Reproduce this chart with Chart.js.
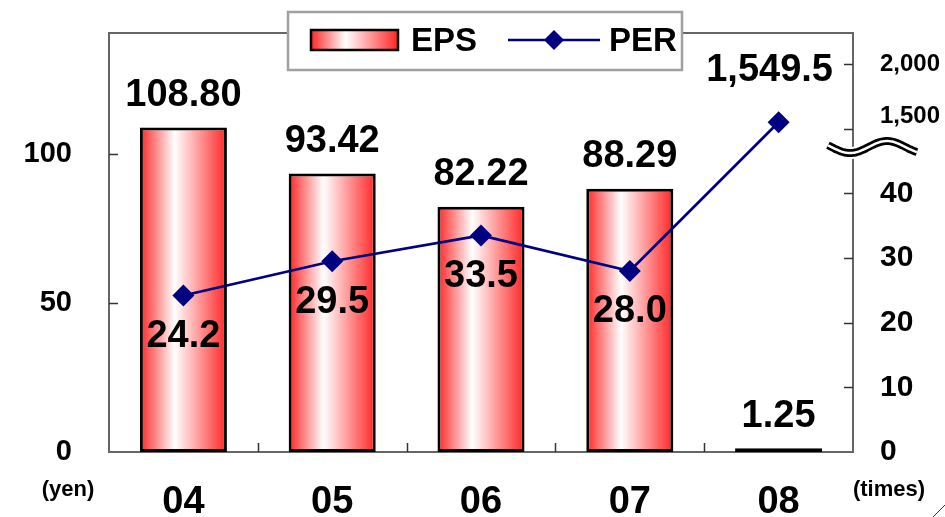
<!DOCTYPE html>
<html>
<head>
<meta charset="utf-8">
<script src="https://cdn.jsdelivr.net/npm/chart.js@4"></script>
<style>
  html, body { margin: 0; padding: 0; background: #fff; }
  canvas { display: block; }
</style>
</head>
<body>
<canvas id="c" width="945" height="517"></canvas>
<script>
// Fiscal years
const years = ['04', '05', '06', '07', '08'];
// EPS (yen) and PER (times)
const eps = [108.80, 93.42, 82.22, 88.29, 1.25];
const per = [24.2, 29.5, 33.5, 28.0, 1549.5];
// Axis tick values
const epsTicks = [0, 50, 100];
const perTicks = [0, 10, 20, 30, 40, 1500, 2000];

// The PER axis is broken: 0-45 is drawn linearly, values above the break
// continue from 1,500 at a compressed scale.
const BREAK_LOW = 45;
const UPPER_BASE = 1500;
const UPPER_AT = 50;
const UPPER_PER_UNIT = 50;
const toAxis = v => v <= BREAK_LOW ? v : UPPER_AT + (v - UPPER_BASE) / UPPER_PER_UNIT;
const fromAxis = a => a <= BREAK_LOW ? a : UPPER_BASE + (a - UPPER_AT) * UPPER_PER_UNIT;

const FONT = "'Liberation Sans', Arial, sans-serif";
const NAVY = '#000080';
const RED = '#ff2525';
const BAR_PCT = 0.585;

function barGradient(ctx, x0, x1) {
  const g = ctx.createLinearGradient(x0, 0, x1, 0);
  g.addColorStop(0, RED);
  g.addColorStop(0.4, '#ffffff');
  g.addColorStop(1, RED);
  return g;
}

// keep the plot area fixed: no extra room for overhanging tick labels
function noPad(s) {
  s.paddingTop = 0; s.paddingBottom = 0; s.paddingLeft = 0; s.paddingRight = 0;
}

const frame = {
  id: 'frame',
  beforeDatasetsDraw(chart) {
    const { ctx, chartArea: a, scales } = chart;
    ctx.save();
    ctx.lineWidth = 2;
    ctx.strokeStyle = '#666';
    ctx.strokeRect(a.left, a.top, a.right - a.left, a.bottom - a.top);
    ctx.beginPath();
    // inward tick marks
    epsTicks.filter(v => v > 0).forEach(v => {
      const y = Math.round(scales.y.getPixelForValue(v)) + 0.5;
      ctx.moveTo(a.left, y); ctx.lineTo(a.left + 9, y);
    });
    perTicks.filter(v => v > 0).forEach(v => {
      const y = Math.round(scales.y2.getPixelForValue(toAxis(v))) + 0.5;
      ctx.moveTo(a.right - 9, y); ctx.lineTo(a.right, y);
    });
    for (let i = 1; i < years.length; i++) {
      const x = Math.round((scales.x.getPixelForValue(i - 1) + scales.x.getPixelForValue(i)) / 2) + 0.5;
      ctx.moveTo(x, a.bottom - 9); ctx.lineTo(x, a.bottom);
    }
    ctx.lineWidth = 1.5;
    ctx.strokeStyle = '#333';
    ctx.stroke();
    ctx.restore();
  },
  afterDatasetsDraw(chart) {
    const { ctx, chartArea: a } = chart;
    ctx.save();
    ctx.fillStyle = '#000';
    ctx.textAlign = 'center';
    ctx.textBaseline = 'middle';
    ctx.font = `bold 38px ${FONT}`;
    const bars = chart.getDatasetMeta(1).data;
    bars.forEach((b, i) => {
      ctx.fillText(eps[i].toFixed(2), b.x, b.y - 32);
    });
    const pts = chart.getDatasetMeta(0).data;
    pts.forEach((p, i) => {
      const txt = per[i].toLocaleString('en-US', { minimumFractionDigits: 1, maximumFractionDigits: 1 });
      if (per[i] > BREAK_LOW) {
        const w = ctx.measureText(txt).width;
        const x = Math.min(p.x, a.right - 20 - w / 2);
        ctx.fillText(txt, x, p.y - 52);
      } else {
        ctx.fillText(txt, p.x, p.y + 41);
      }
    });
    ctx.restore();
  },
  afterDraw(chart) {
    const { ctx, scales } = chart;
    ctx.save();
    // unit captions
    ctx.fillStyle = '#000';
    ctx.textBaseline = 'middle';
    ctx.textAlign = 'center';
    ctx.font = `bold 22px ${FONT}`;
    ctx.fillText('(yen)', 68, 490);
    ctx.fillText('(times)', 889, 490);

    // axis break mark on the PER axis
    const yc = scales.y2.getPixelForValue(46.7);
    const wave = () => {
      ctx.beginPath();
      for (let x = 828; x <= 917; x += 1) {
        const y = yc - 3 + 6 * Math.cos(2 * Math.PI * (x - 850) / 74);
        x === 828 ? ctx.moveTo(x, y) : ctx.lineTo(x, y);
      }
    };
    wave();
    ctx.lineCap = 'butt';
    ctx.strokeStyle = '#fff'; ctx.lineWidth = 12; ctx.stroke();
    ctx.strokeStyle = '#000'; ctx.lineWidth = 8; ctx.stroke();
    ctx.strokeStyle = '#fff'; ctx.lineWidth = 2.5; ctx.stroke();

    // legend
    ctx.fillStyle = '#fff';
    ctx.fillRect(288, 12, 394, 58);
    ctx.strokeStyle = '#a0a0a0';
    ctx.lineWidth = 2.5;
    ctx.strokeRect(288, 12, 394, 58);
    ctx.fillStyle = barGradient(ctx, 311, 398);
    ctx.fillRect(311, 30, 87, 20);
    ctx.strokeStyle = '#000';
    ctx.lineWidth = 2.5;
    ctx.strokeRect(311, 30, 87, 20);
    ctx.fillStyle = '#000';
    ctx.textAlign = 'left';
    ctx.font = `bold 33px ${FONT}`;
    ctx.fillText('EPS', 411, 42);
    ctx.beginPath();
    ctx.moveTo(508, 40); ctx.lineTo(600, 40);
    ctx.strokeStyle = NAVY; ctx.lineWidth = 2.5; ctx.stroke();
    ctx.beginPath();
    ctx.moveTo(554, 30); ctx.lineTo(564, 40); ctx.lineTo(554, 50); ctx.lineTo(544, 40); ctx.closePath();
    ctx.fillStyle = NAVY; ctx.fill();
    ctx.fillStyle = '#000';
    ctx.fillText('PER', 609, 42);

    // corner stroke
    ctx.beginPath();
    ctx.moveTo(945, 505); ctx.lineTo(933, 517);
    ctx.strokeStyle = '#333'; ctx.lineWidth = 1; ctx.stroke();
    ctx.restore();
  }
};

new Chart(document.getElementById('c'), {
  data: {
    labels: years,
    datasets: [
      {
        type: 'line',
        label: 'PER',
        data: per.map(toAxis),
        yAxisID: 'y2',
        order: 0,
        borderColor: NAVY,
        borderWidth: 2.7,
        backgroundColor: NAVY,
        pointStyle: 'rectRot',
        pointRadius: 11,
        pointBorderWidth: 0,
        pointBackgroundColor: NAVY,
        tension: 0
      },
      {
        type: 'bar',
        label: 'EPS',
        data: eps,
        yAxisID: 'y',
        order: 1,
        barPercentage: BAR_PCT,
        categoryPercentage: 1,
        borderColor: '#000',
        borderWidth: 3,
        borderSkipped: false,
        backgroundColor: (c) => {
          const chart = c.chart;
          const xs = chart.scales && chart.scales.x;
          if (!xs || c.dataIndex === undefined || !chart.chartArea) return RED;
          const cx = xs.getPixelForValue(c.dataIndex);
          const w = (xs.width / years.length) * BAR_PCT;
          return barGradient(chart.ctx, cx - w / 2, cx + w / 2);
        }
      }
    ]
  },
  options: {
    responsive: false,
    devicePixelRatio: 1,
    animation: false,
    layout: { padding: { top: 33, left: 0, right: 0, bottom: 0 } },
    plugins: { legend: { display: false }, tooltip: { enabled: false } },
    scales: {
      x: {
        type: 'category',
        offset: true,
        grid: { display: false, drawTicks: false },
        border: { display: false },
        ticks: { color: '#000', font: { family: FONT, size: 38, weight: 'bold' }, padding: 28, maxRotation: 0 },
        afterFit: s => { s.height = 65; noPad(s); }
      },
      y: {
        position: 'left',
        min: 0,
        max: 140.5,
        grid: { display: false, drawTicks: false },
        border: { display: false },
        afterBuildTicks: s => { s.ticks = epsTicks.map(v => ({ value: v })); },
        ticks: { color: '#000', font: { family: FONT, size: 29, weight: 'bold' }, padding: 37 },
        afterFit: s => { s.width = 109; noPad(s); }
      },
      y2: {
        position: 'right',
        min: 0,
        max: 64.8,
        grid: { display: false, drawTicks: false },
        border: { display: false },
        afterBuildTicks: s => { s.ticks = perTicks.map(v => ({ value: toAxis(v) })); },
        ticks: {
          color: '#000',
          padding: 27,
          font: (c) => ({ family: FONT, weight: 'bold', lineHeight: 1, size: c.tick && c.tick.value > BREAK_LOW ? 24 : 30 }),
          callback: (v) => {
            const real = fromAxis(v);
            if (v > BREAK_LOW) {
              const t = real.toLocaleString('en-US');
              return real === UPPER_BASE ? [t, ''] : t;
            }
            return String(real);
          }
        },
        afterFit: s => { s.width = 92; noPad(s); }
      }
    }
  },
  plugins: [frame]
});
</script>
</body>
</html>
